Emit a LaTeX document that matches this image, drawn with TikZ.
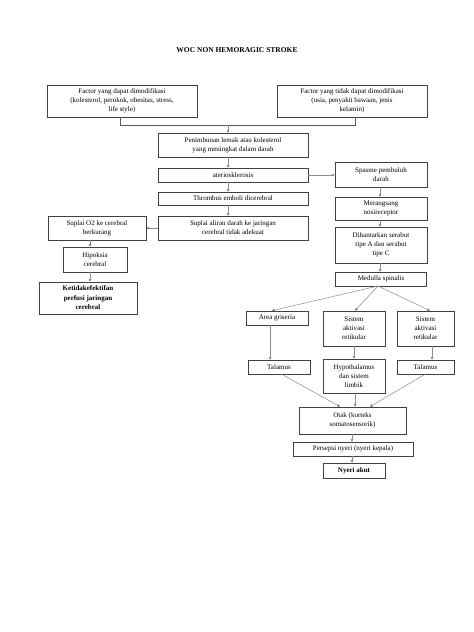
\documentclass[tikz,border=0pt]{standalone}
\usepackage{fontspec}
\setmainfont{Liberation Serif}
\usetikzlibrary{arrows.meta}
\begin{document}
\begin{tikzpicture}[x=1pt,y=-1pt,
  bx/.style={draw=black!75,line width=0.7pt,align=center,inner sep=0pt,font=\fontsize{7}{9}\selectfont},
  conn/.style={draw=black!45,line width=0.5pt},
  arr/.style={conn,-{Triangle[length=2.6pt,width=2.6pt,fill=black]}},
]
\useasboundingbox (0,0) rectangle (474,632);
\fill[white] (0,0) rectangle (474,632);
\node[font=\bfseries\fontsize{7.5}{9}\selectfont] (title) at (237,50) {WOC NON HEMORAGIC STROKE};

\node[bx,minimum width=150pt,minimum height=32pt] (f1) at (122,101) {Factor yang dapat dimodifikasi\\(kolesterol, perokok, obesitas, stress,\\life style)};
\node[bx,minimum width=150pt,minimum height=32pt] (f2) at (352,101) {Factor yang tidak dapat dimodifikasi\\(usia, penyakit bawaan, jenis\\kelamin)};
\node[bx,minimum width=150pt,minimum height=24pt] (pen) at (233,145) {Penimbunan lemak atau kolesterol\\yang meningkat dalam darah};
\node[bx,minimum width=150pt,minimum height=14pt] (ater) at (233,175) {ateriosklerosis};
\node[bx,minimum width=92pt,minimum height=25pt] (spas) at (381,174.5) {Spasme pembuluh\\darah};
\node[bx,minimum width=150pt,minimum height=13pt] (thr) at (233,198.5) {Thrombus emboli dicerebral};
\node[bx,minimum width=150pt,minimum height=24pt] (supA) at (233,228) {Suplai aliran darah ke jaringan\\cerebral tidak adekuat};
\node[bx,minimum width=98pt,minimum height=24pt] (supO) at (97,228) {Suplai O2 ke cerebral\\berkurang};
\node[bx,minimum width=64pt,minimum height=25pt] (hip) at (95,259.5) {Hipoksia\\cerebral};
\node[bx,minimum width=98pt,minimum height=32pt,font=\bfseries\fontsize{7}{9.5}\selectfont] (ket) at (88,298) {Ketidakefektifan\\perfusi jaringan\\cerebral};
\node[bx,minimum width=92pt,minimum height=23pt] (mer) at (381,208.5) {Merangsang\\nosireceptor};
\node[bx,minimum width=92pt,minimum height=36pt] (dih) at (381,245) {Dihantarkan serabut\\tipe A dan serabut\\tipe C};
\node[bx,minimum width=91pt,minimum height=14pt] (med) at (381,279) {Medulla spinalis};
\node[bx,minimum width=62pt,minimum height=14pt] (area) at (277,318) {Area griseria};
\node[bx,minimum width=62pt,minimum height=35pt] (sis1) at (354,328.5) {Sistem\\aktivasi\\retikular};
\node[bx,minimum width=57pt,minimum height=35pt] (sis2) at (425.5,328.5) {Sistem\\aktivasi\\retikular};
\node[bx,minimum width=62pt,minimum height=14pt] (tal1) at (279,367) {Talamus};
\node[bx,minimum width=62pt,minimum height=34pt] (hyp) at (354,376) {Hypothalamus\\dan sistem\\limbik};
\node[bx,minimum width=57pt,minimum height=14pt] (tal2) at (425.5,367) {Talamus};
\node[bx,minimum width=107pt,minimum height=27pt] (otak) at (352.5,420.5) {Otak (korteks\\somatosensorik)};
\node[bx,minimum width=120pt,minimum height=14pt] (pers) at (353,449) {Persepsi nyeri (nyeri kepala)};
\node[bx,minimum width=62pt,minimum height=15pt,font=\bfseries\fontsize{7}{9}\selectfont] (nyeri) at (354,470.5) {Nyeri akut};

% top connector
\coordinate (j1) at (120,125);
\coordinate (j2) at (355,125);
\coordinate (jm) at (228,125);
\draw[conn,draw=black!65] (f1.south -| j1) -- (j1) -- (j2) -- (f2.south -| j2);
\draw[arr] (jm) -- (pen.north -| jm);
\draw[arr] (pen.south -| jm) -- (ater.north -| jm);
\draw[arr] (ater.south -| jm) -- (thr.north -| jm);
\draw[arr] (thr.south -| jm) -- (supA.north -| jm);
\draw[arr] (ater.east) -- (spas.west |- ater.east);
\draw[arr] (supA.west) -- (supO.east);
\coordinate (cl) at (90,0);
\draw[arr] (supO.south -| cl) -- (hip.north -| cl);
\draw[arr] (hip.south -| cl) -- (ket.north -| cl);
\coordinate (cr) at (380,0);
\draw[arr] (spas.south -| cr) -- (mer.north -| cr);
\draw[arr] (mer.south -| cr) -- (dih.north -| cr);
\draw[arr] (dih.south -| cr) -- (med.north -| cr);
\coordinate (mb) at (378,286);
\draw[arr] (mb) -- (area.north -| 272,0);
\draw[arr] (mb) -- (sis1.north -| 355,0);
\draw[arr] (mb) -- (sis2.north -| 430,0);
\coordinate (ca) at (270,0);
\draw[arr] (area.south -| ca) -- (tal1.north -| ca);
\coordinate (cs1) at (354,0);
\draw[arr] (sis1.south -| cs1) -- (hyp.north -| cs1);
\coordinate (cs2) at (432,0);
\draw[arr] (sis2.south -| cs2) -- (tal2.north -| cs2);
\draw[arr] (tal1.south -| 282,0) -- (otak.north -| 340,0);
\draw[arr] (hyp.south -| 355,0) -- (otak.north -| 355,0);
\draw[arr] (tal2.south -| 425,0) -- (otak.north -| 370,0);
\coordinate (co) at (352,0);
\draw[arr] (otak.south -| co) -- (pers.north -| co);
\draw[arr] (pers.south -| co) -- (nyeri.north -| co);
\end{tikzpicture}
\end{document}
